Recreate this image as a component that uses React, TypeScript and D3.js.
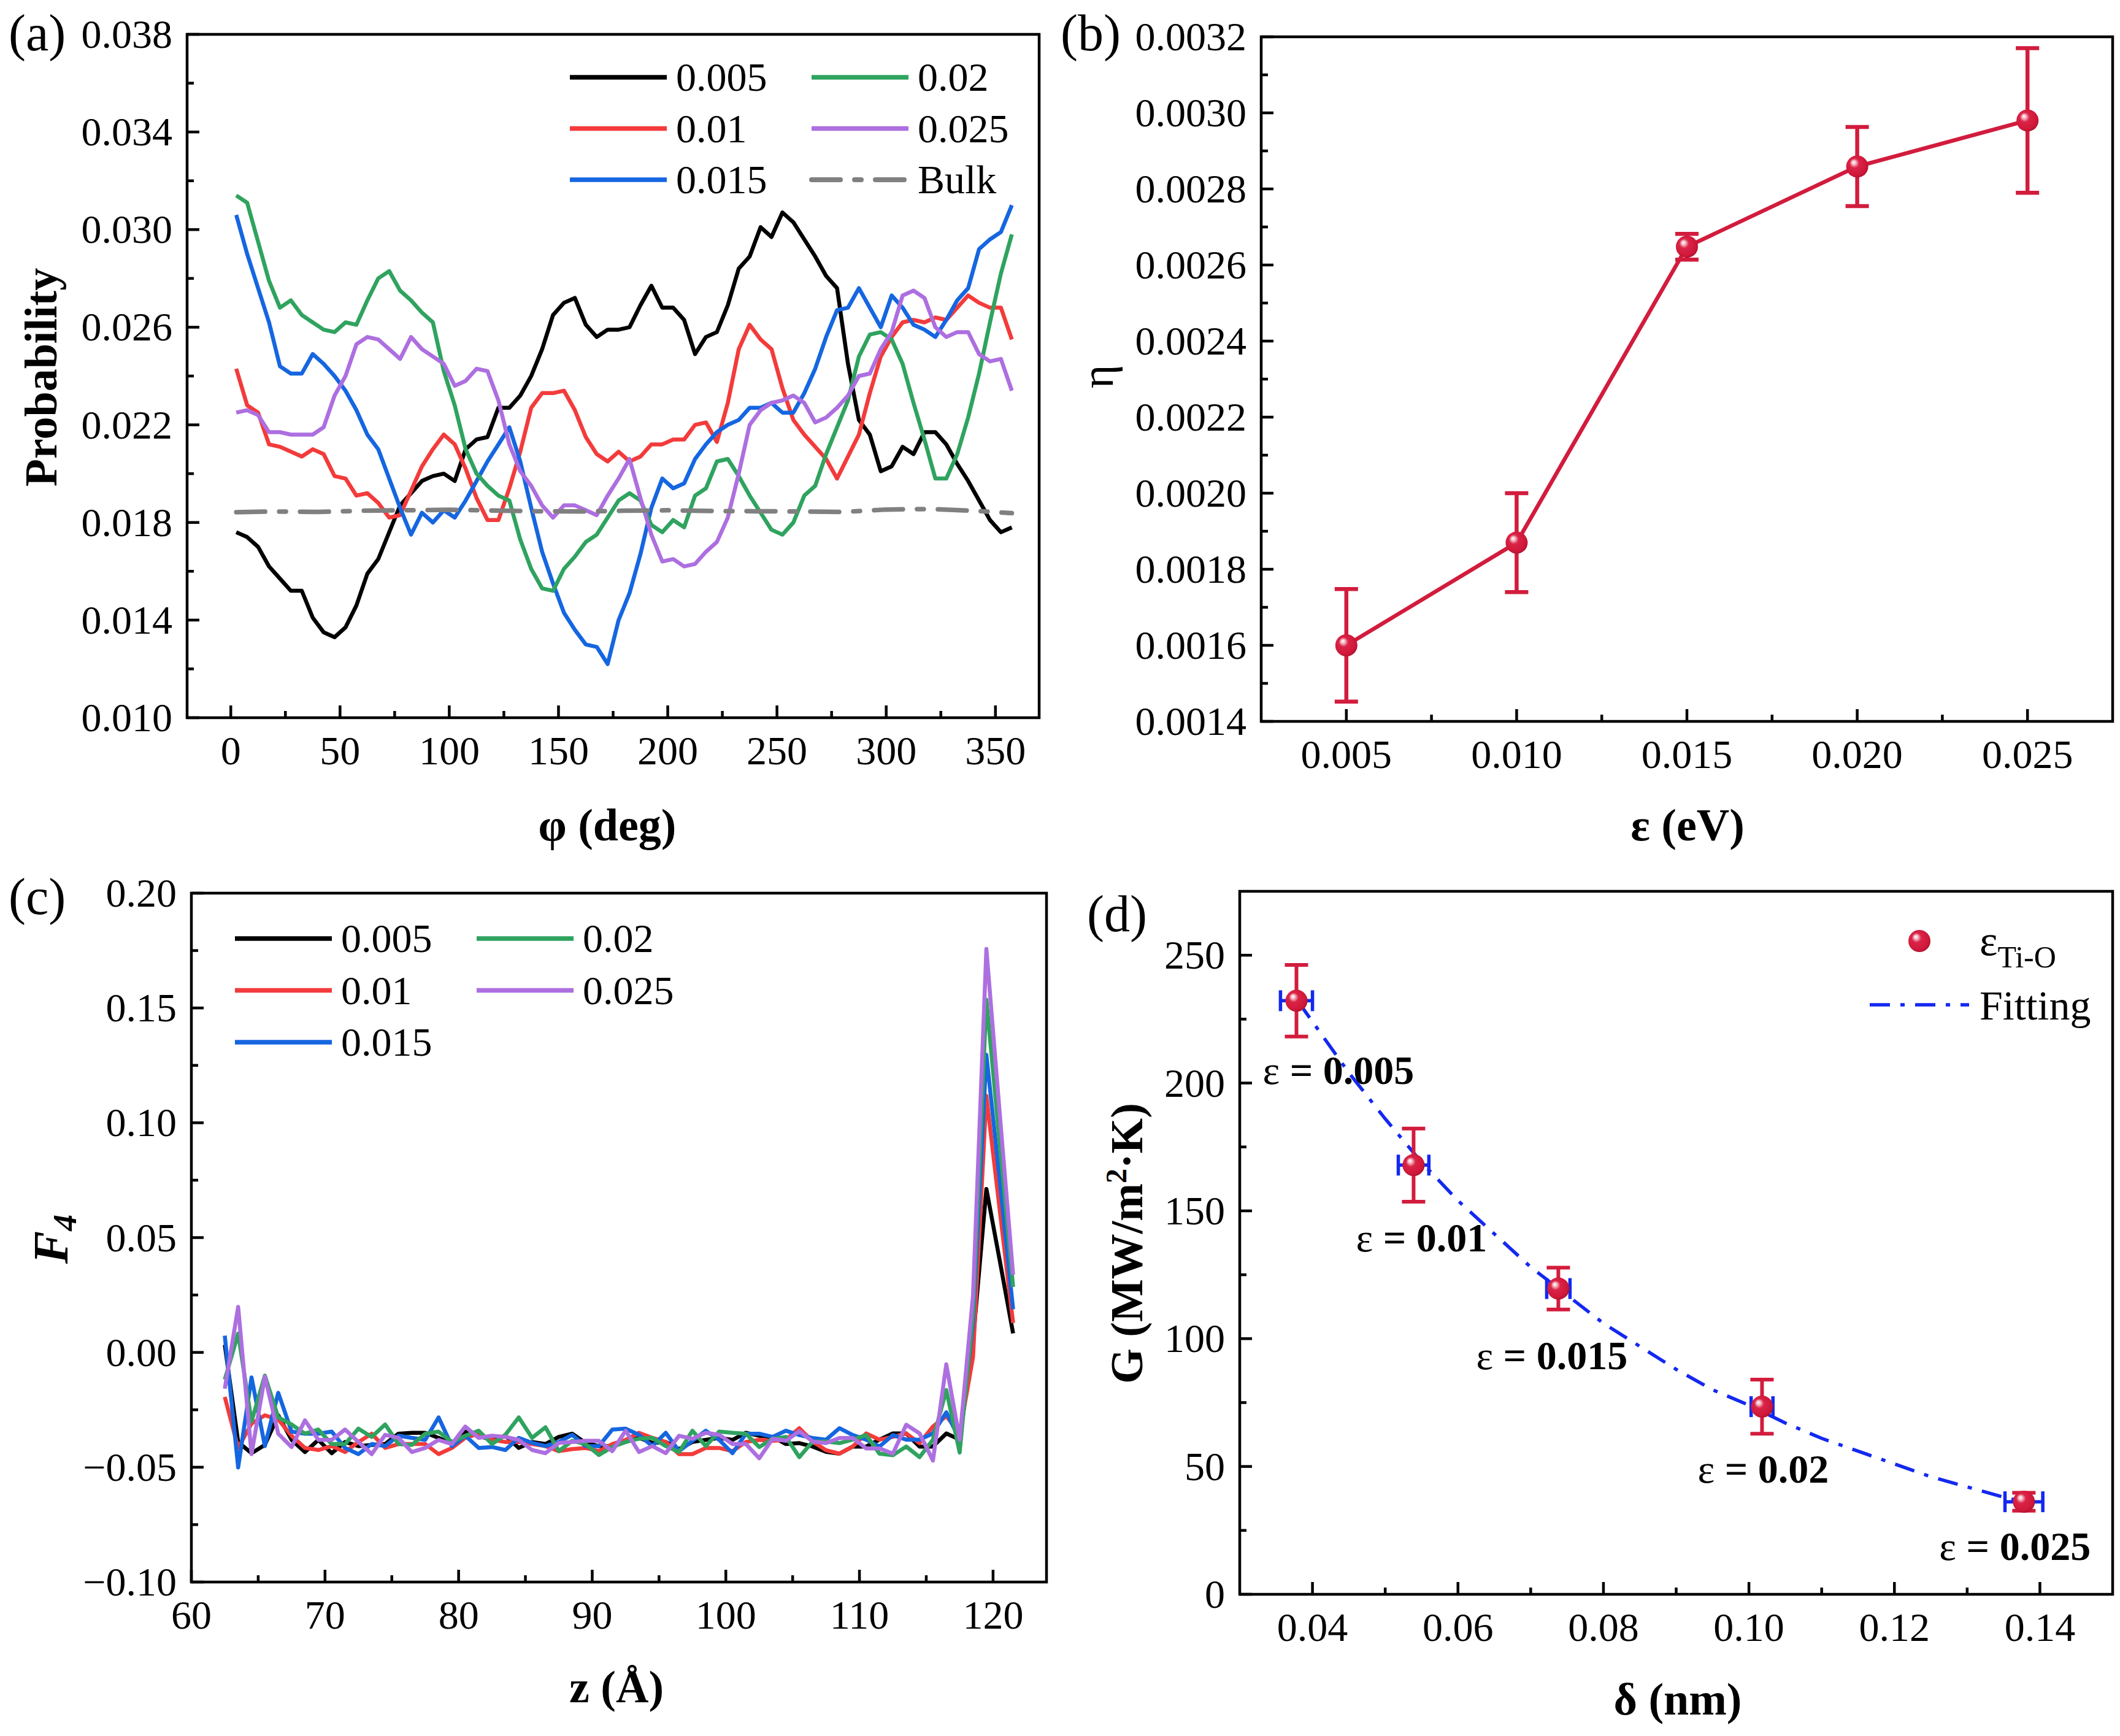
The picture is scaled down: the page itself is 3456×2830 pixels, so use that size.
import React from 'react';
import * as d3 from 'd3';

const W = 3456;
const H = 2830;
const FONT = '"Liberation Serif", "Times New Roman", Times, serif';

// ---------------- Panel (a) data ----------------
const phiGrid = d3.range(2.5, 360, 5);
const a005 = [0.0176,0.0174,0.0170,0.0162,0.0157,0.0152,0.0152,0.0141,0.0135,0.0133,
0.0137,0.0146,0.0159,0.0165,0.0176,0.0187,0.0192,0.0197,0.0199,0.0200,
0.0197,0.0210,0.0214,0.0215,0.0227,0.0227,0.0232,0.0240,0.0251,0.0265,
0.0270,0.0272,0.0261,0.0256,0.0259,0.0259,0.0260,0.0269,0.0277,0.0268,
0.0268,0.0263,0.0249,0.0256,0.0258,0.0269,0.0284,0.0289,0.0301,0.0297,
0.0307,0.0303,0.0296,0.0289,0.0281,0.0276,0.0245,0.0222,0.0216,0.0201,
0.0203,0.0211,0.0208,0.0217,0.0217,0.0212,0.0204,0.0197,0.0189,0.0181,0.0176,0.0178];
const a010 = [0.0243,0.0228,0.0225,0.0212,0.0211,0.0209,0.0207,0.0210,0.0208,0.0199,
0.0198,0.0191,0.0192,0.0188,0.0182,0.0183,0.0193,0.0203,0.0210,0.0216,
0.0212,0.0202,0.0190,0.0181,0.0181,0.0194,0.0209,0.0227,0.0233,0.0233,
0.0234,0.0226,0.0215,0.0208,0.0205,0.0209,0.0205,0.0207,0.0212,0.0212,
0.0214,0.0214,0.0220,0.0221,0.0213,0.0229,0.0251,0.0261,0.0255,0.0251,
0.0235,0.0222,0.0216,0.0211,0.0206,0.0198,0.0207,0.0216,0.0233,0.0248,
0.0256,0.0262,0.0263,0.0262,0.0264,0.0263,0.0268,0.0273,0.0270,0.0268,0.0268,0.0255];
const a015 = [0.0306,0.0290,0.0276,0.0262,0.0244,0.0241,0.0241,0.0249,0.0245,0.0240,
0.0234,0.0226,0.0216,0.0210,0.0198,0.0186,0.0175,0.0184,0.0180,0.0185,
0.0182,0.0189,0.0197,0.0205,0.0212,0.0219,0.0205,0.0186,0.0168,0.0155,
0.0143,0.0136,0.0130,0.0129,0.0122,0.0140,0.0151,0.0167,0.0186,0.0198,
0.0194,0.0196,0.0206,0.0212,0.0217,0.0220,0.0222,0.0227,0.0227,0.0229,
0.0225,0.0225,0.0233,0.0243,0.0256,0.0267,0.0268,0.0276,0.0268,0.0260,
0.0273,0.0268,0.0261,0.0259,0.0256,0.0263,0.0271,0.0276,0.0292,0.0296,0.0299,0.0310];
const a020 = [0.0314,0.0311,0.0295,0.0279,0.0268,0.0271,0.0265,0.0262,0.0259,0.0258,
0.0262,0.0261,0.0271,0.0280,0.0283,0.0275,0.0271,0.0266,0.0262,0.0242,
0.0228,0.0210,0.0200,0.0195,0.0191,0.0189,0.0173,0.0161,0.0153,0.0152,
0.0161,0.0166,0.0172,0.0175,0.0182,0.0189,0.0192,0.0189,0.0179,0.0176,
0.0181,0.0178,0.0191,0.0194,0.0205,0.0206,0.0199,0.0191,0.0184,0.0177,
0.0175,0.0180,0.0191,0.0195,0.0208,0.0219,0.0230,0.0248,0.0257,0.0258,
0.0255,0.0245,0.0229,0.0214,0.0198,0.0198,0.0208,0.0223,0.0241,0.0262,0.0282,0.0298];
const a025 = [0.0225,0.0226,0.0224,0.0217,0.0217,0.0216,0.0216,0.0216,0.0219,0.0232,
0.0240,0.0253,0.0256,0.0255,0.0251,0.0247,0.0256,0.0251,0.0248,0.0245,
0.0236,0.0238,0.0243,0.0242,0.0230,0.0212,0.0201,0.0195,0.0187,0.0182,
0.0187,0.0187,0.0185,0.0183,0.0191,0.0198,0.0206,0.0190,0.0175,0.0164,
0.0165,0.0162,0.0163,0.0168,0.0172,0.0182,0.0200,0.0220,0.0226,0.0229,
0.0230,0.0232,0.0229,0.0221,0.0223,0.0227,0.0232,0.0240,0.0241,0.0251,
0.0258,0.0273,0.0275,0.0272,0.0260,0.0256,0.0258,0.0258,0.0249,0.0246,0.0247,0.0234];
const bulkPhi = [2.5,20,40,60,80,100,120,140,160,180,200,220,240,260,280,300,320,340,357.5];
const bulkVal = [0.01842,0.01845,0.01843,0.01848,0.01850,0.01852,0.01849,0.01846,0.01845,0.01848,0.01850,0.01847,0.01846,0.01845,0.01843,0.01853,0.01855,0.01848,0.01838];
const aXTicks = [0,50,100,150,200,250,300,350];
const aXMinor = [25,75,125,175,225,275,325];
const aYTicks = [0.010,0.014,0.018,0.022,0.026,0.030,0.034,0.038];
const aYMinor = [0.012,0.016,0.020,0.024,0.028,0.032,0.036];

// ---------------- Panel (b) data ----------------
const bEps = [0.005,0.010,0.015,0.020,0.025];
const bEta = [0.00160,0.00187,0.002648,0.002859,0.00298];
const bErr = [0.000148,0.00013,0.000034,0.000104,0.00019];
const bXTicks = [0.005,0.010,0.015,0.020,0.025];
const bXMinor = [0.0075,0.0125,0.0175,0.0225];
const bYTicks = [0.0014,0.0016,0.0018,0.0020,0.0022,0.0024,0.0026,0.0028,0.0030,0.0032];
const bYMinor = [0.0015,0.0017,0.0019,0.0021,0.0023,0.0025,0.0027,0.0029,0.0031];

// ---------------- Panel (c) data ----------------
const zGrid = d3.range(62.5, 122, 1);
const c005 = [0.0033,-0.0390,-0.0439,-0.0403,-0.0274,-0.0381,-0.0434,-0.0381,-0.0439,-0.0390,
-0.0408,-0.0403,-0.0399,-0.0354,-0.0350,-0.0350,-0.0372,-0.0399,-0.0345,-0.0363,
-0.0381,-0.0363,-0.0416,-0.0390,-0.0399,-0.0368,-0.0354,-0.0394,-0.0408,-0.0408,
-0.0390,-0.0372,-0.0394,-0.0390,-0.0421,-0.0390,-0.0381,-0.0372,-0.0381,-0.0350,
-0.0363,-0.0368,-0.0399,-0.0395,-0.0410,-0.0433,-0.0441,-0.0410,-0.0410,-0.0380,
-0.0353,-0.0353,-0.0410,-0.0410,-0.0353,-0.0380,0.0051,0.0712,0.0400,0.0083];
const c010 = [-0.0194,-0.0416,-0.0310,-0.0274,-0.0292,-0.0363,-0.0416,-0.0425,-0.0408,-0.0434,
-0.0390,-0.0354,-0.0416,-0.0399,-0.0399,-0.0399,-0.0443,-0.0416,-0.0372,-0.0354,
-0.0381,-0.0390,-0.0390,-0.0399,-0.0408,-0.0430,-0.0421,-0.0416,-0.0430,-0.0399,
-0.0381,-0.0350,-0.0372,-0.0390,-0.0443,-0.0443,-0.0416,-0.0416,-0.0430,-0.0390,
-0.0381,-0.0385,-0.0381,-0.0330,-0.0388,-0.0426,-0.0441,-0.0410,-0.0353,-0.0380,
-0.0368,-0.0353,-0.0395,-0.0323,-0.0277,-0.0353,-0.0020,0.1117,0.0620,0.0128];
const c015 = [0.0073,-0.0501,-0.0109,-0.0408,-0.0176,-0.0345,-0.0354,-0.0354,-0.0345,-0.0416,
-0.0443,-0.0399,-0.0408,-0.0363,-0.0372,-0.0381,-0.0283,-0.0408,-0.0363,-0.0416,
-0.0412,-0.0425,-0.0372,-0.0394,-0.0408,-0.0390,-0.0359,-0.0408,-0.0408,-0.0336,
-0.0332,-0.0359,-0.0408,-0.0350,-0.0430,-0.0385,-0.0341,-0.0381,-0.0439,-0.0354,
-0.0354,-0.0368,-0.0341,-0.0360,-0.0373,-0.0380,-0.0330,-0.0360,-0.0380,-0.0410,
-0.0360,-0.0380,-0.0380,-0.0353,-0.0261,-0.0380,0.0128,0.1296,0.0750,0.0188];
const c020 = [-0.0118,0.0082,-0.0301,-0.0101,-0.0283,-0.0314,-0.0354,-0.0336,-0.0399,-0.0399,
-0.0332,-0.0368,-0.0314,-0.0399,-0.0403,-0.0354,-0.0345,-0.0390,-0.0363,-0.0341,
-0.0399,-0.0359,-0.0283,-0.0372,-0.0326,-0.0430,-0.0385,-0.0399,-0.0447,-0.0412,
-0.0390,-0.0376,-0.0372,-0.0408,-0.0434,-0.0341,-0.0408,-0.0345,-0.0350,-0.0354,
-0.0412,-0.0376,-0.0368,-0.0456,-0.0388,-0.0388,-0.0395,-0.0380,-0.0360,-0.0441,
-0.0448,-0.0410,-0.0456,-0.0380,-0.0164,-0.0436,0.0170,0.1536,0.0910,0.0285];
const c025 = [-0.0158,0.0198,-0.0443,-0.0105,-0.0354,-0.0412,-0.0296,-0.0381,-0.0381,-0.0336,
-0.0390,-0.0443,-0.0359,-0.0372,-0.0434,-0.0416,-0.0381,-0.0399,-0.0323,-0.0372,
-0.0363,-0.0368,-0.0381,-0.0425,-0.0439,-0.0394,-0.0390,-0.0385,-0.0385,-0.0430,
-0.0341,-0.0434,-0.0408,-0.0439,-0.0363,-0.0376,-0.0350,-0.0359,-0.0399,-0.0399,
-0.0461,-0.0376,-0.0385,-0.0343,-0.0388,-0.0395,-0.0373,-0.0373,-0.0418,-0.0418,
-0.0441,-0.0315,-0.0353,-0.0471,-0.0052,-0.0380,0.0248,0.1757,0.1040,0.0338];
const cXTicks = [60,70,80,90,100,110,120];
const cXMinor = [65,75,85,95,105,115];
const cYTicks = [-0.10,-0.05,0.00,0.05,0.10,0.15,0.20];
const cYMinor = [-0.075,-0.025,0.025,0.075,0.125,0.175];

// ---------------- Panel (d) data ----------------
const dDelta = [0.0378,0.0539,0.0738,0.1018,0.1378];
const dG = [232.2,167.9,119.6,73.4,36.2];
const dGErr = [14.0,14.3,8.2,10.6,3.5];
const dDeltaErr = [0.0022,0.0021,0.0016,0.0015,0.0026];
const dLabels = ['0.005','0.01','0.015','0.02','0.025'];
const fitX = [0.038,0.045,0.05,0.055,0.06,0.065,0.07,0.075,0.08,0.085,0.09,0.095,0.10,0.105,0.11,0.115,0.12,0.125,0.13,0.135,0.138];
const fitY = [232,204,186,169,154,141,128,117,106,97,88,80,74,67,61,56,51,46,42,38,36];
const dXTicks = [0.04,0.06,0.08,0.10,0.12,0.14];
const dXMinor = [0.05,0.07,0.09,0.11,0.13];
const dYTicks = [0,50,100,150,200,250];
const dYMinor = [25,75,125,175,225];

// ---------------- styles ----------------
const C_BLACK = '#000000';
const C_RED = '#f33b3b';
const C_BLUE = '#1566e0';
const C_GREEN = '#2fa35f';
const C_PURPLE = '#ad6fe0';
const C_GRAY = '#808080';
const C_CRIMSON = '#d21c3d';
const C_FITBLUE = '#1428f0';

const TICK_FS = 66;
const TITLE_FS = 74;
const PANEL_FS = 84;

type Box = { l: number; r: number; t: number; b: number };

function Axes(props: {
  box: Box;
  xs: d3.ScaleLinear<number, number>;
  ys: d3.ScaleLinear<number, number>;
  xMajor: number[]; xMinor: number[]; yMajor: number[]; yMinor: number[];
  xFmt: (v: number) => string; yFmt: (v: number) => string;
}) {
  const { box, xs, ys, xMajor, xMinor, yMajor, yMinor, xFmt, yFmt } = props;
  const MAJ = 20, MIN = 11, SW = 4.5;
  return (
    <g>
      {xMajor.map((v, i) => (
        <line key={'xm' + i} x1={xs(v)} x2={xs(v)} y1={box.b} y2={box.b - MAJ} stroke="#000" strokeWidth={SW} />
      ))}
      {xMinor.map((v, i) => (
        <line key={'xn' + i} x1={xs(v)} x2={xs(v)} y1={box.b} y2={box.b - MIN} stroke="#000" strokeWidth={SW} />
      ))}
      {yMajor.map((v, i) => (
        <line key={'ym' + i} x1={box.l} x2={box.l + MAJ} y1={ys(v)} y2={ys(v)} stroke="#000" strokeWidth={SW} />
      ))}
      {yMinor.map((v, i) => (
        <line key={'yn' + i} x1={box.l} x2={box.l + MIN} y1={ys(v)} y2={ys(v)} stroke="#000" strokeWidth={SW} />
      ))}
      {xMajor.map((v, i) => (
        <text key={'xl' + i} x={xs(v)} y={box.b + 76} textAnchor="middle" fontSize={TICK_FS} fontFamily={FONT}>{xFmt(v)}</text>
      ))}
      {yMajor.map((v, i) => (
        <text key={'yl' + i} x={box.l - 24} y={ys(v) + 22} textAnchor="end" fontSize={TICK_FS} fontFamily={FONT}>{yFmt(v)}</text>
      ))}
      <rect x={box.l} y={box.t} width={box.r - box.l} height={box.b - box.t} fill="none" stroke="#000" strokeWidth={SW} />
    </g>
  );
}

function Ball({ cx, cy, r }: { cx: number; cy: number; r: number }) {
  return <circle cx={cx} cy={cy} r={r} fill="url(#ballGrad)" />;
}

export default function App() {
  // ---- (a)
  const boxA: Box = { l: 305, r: 1694, t: 56, b: 1170 };
  const xA = d3.scaleLinear().domain([-20, 370]).range([boxA.l, boxA.r]);
  const yA = d3.scaleLinear().domain([0.010, 0.038]).range([boxA.b, boxA.t]);
  const lineA = d3.line<number>().x((_, i) => xA(phiGrid[i])).y((d) => yA(d));
  const bulkLine = d3.line<number>().x((_, i) => xA(bulkPhi[i])).y((d) => yA(d));
  const seriesA = [
    { name: '0.005', color: C_BLACK, v: a005 },
    { name: '0.01', color: C_RED, v: a010 },
    { name: '0.015', color: C_BLUE, v: a015 },
    { name: '0.02', color: C_GREEN, v: a020 },
    { name: '0.025', color: C_PURPLE, v: a025 },
  ];
  const BULK_DASH = '47,23,11,23';

  // ---- (b)
  const boxB: Box = { l: 2056, r: 3444, t: 60, b: 1176 };
  const xB = d3.scaleLinear().domain([0.0025, 0.0275]).range([boxB.l, boxB.r]);
  const yB = d3.scaleLinear().domain([0.0014, 0.0032]).range([boxB.b, boxB.t]);
  const lineB = d3.line<number>().x((_, i) => xB(bEps[i])).y((d) => yB(d));

  // ---- (c)
  const boxC: Box = { l: 312, r: 1706, t: 1456, b: 2579 };
  const xC = d3.scaleLinear().domain([60, 124]).range([boxC.l, boxC.r]);
  const yC = d3.scaleLinear().domain([-0.10, 0.20]).range([boxC.b, boxC.t]);
  const lineC = d3.line<number>().x((_, i) => xC(zGrid[i])).y((d) => yC(d));
  const seriesC = [
    { name: '0.005', color: C_BLACK, v: c005 },
    { name: '0.01', color: C_RED, v: c010 },
    { name: '0.015', color: C_BLUE, v: c015 },
    { name: '0.02', color: C_GREEN, v: c020 },
    { name: '0.025', color: C_PURPLE, v: c025 },
  ];

  // ---- (d)
  const boxD: Box = { l: 2021, r: 3444, t: 1453, b: 2599 };
  const xD = d3.scaleLinear().domain([0.03, 0.15]).range([boxD.l, boxD.r]);
  const yD = d3.scaleLinear().domain([0, 275]).range([boxD.b, boxD.t]);
  const fitLine = d3.line<number>().x((_, i) => xD(fitX[i])).y((d) => yD(d));
  const FIT_DASH = '33,17,7,17';
  const labelOffsets = [
    { dx: -55, dy: 136 },
    { dx: -94, dy: 141 },
    { dx: -134, dy: 131 },
    { dx: -105, dy: 124 },
    { dx: -138, dy: 95 },
  ];

  const f3 = d3.format('.3f');
  const f4 = d3.format('.4f');
  const f2 = d3.format('.2f');
  const fInt = d3.format('d');

  const legA = [
    { col: 0, row: 0, s: seriesA[0] },
    { col: 0, row: 1, s: seriesA[1] },
    { col: 0, row: 2, s: seriesA[2] },
    { col: 1, row: 0, s: seriesA[3] },
    { col: 1, row: 1, s: seriesA[4] },
  ];
  const legC = [
    { col: 0, row: 0, s: seriesC[0] },
    { col: 0, row: 1, s: seriesC[1] },
    { col: 0, row: 2, s: seriesC[2] },
    { col: 1, row: 0, s: seriesC[3] },
    { col: 1, row: 1, s: seriesC[4] },
  ];

  return (
    <svg width={W} height={H} viewBox={`0 0 ${W} ${H}`} style={{ position: 'absolute', left: 0, top: 0, background: '#fff' }} fontFamily={FONT}>
      <defs>
        <radialGradient id="ballGrad" cx="0.45" cy="0.45" r="0.6" fx="0.33" fy="0.3">
          <stop offset="0" stopColor="#ffffff" />
          <stop offset="0.14" stopColor="#f6c3cd" />
          <stop offset="0.36" stopColor="#da2447" />
          <stop offset="0.8" stopColor="#cf1839" />
          <stop offset="1" stopColor="#a5102d" />
        </radialGradient>
      </defs>
      <rect x={0} y={0} width={W} height={H} fill="#fff" />

      {/* ================= (a) ================= */}
      <g>
        {seriesA.map((s) => (
          <path key={s.name} d={lineA(s.v) || ''} fill="none" stroke={s.color} strokeWidth={6.5} strokeLinejoin="round" />
        ))}
        <path d={bulkLine(bulkVal) || ''} fill="none" stroke={C_GRAY} strokeWidth={7.5} strokeDasharray={BULK_DASH} strokeLinecap="round" />
        <Axes box={boxA} xs={xA} ys={yA} xMajor={aXTicks} xMinor={aXMinor} yMajor={aYTicks} yMinor={aYMinor} xFmt={fInt} yFmt={f3} />
        {legA.map((e) => {
          const lx = e.col === 0 ? 929 : 1323;
          const ly = 126 + e.row * 83.5;
          return (
            <g key={'la' + e.s.name}>
              <line x1={lx} x2={lx + 158} y1={ly} y2={ly} stroke={e.s.color} strokeWidth={7.5} />
              <text x={lx + 173} y={ly + 22} fontSize={TICK_FS}>{e.s.name}</text>
            </g>
          );
        })}
        <line x1={1323} x2={1481} y1={126 + 2 * 83.5} y2={126 + 2 * 83.5} stroke={C_GRAY} strokeWidth={8} strokeDasharray={BULK_DASH} strokeLinecap="round" />
        <text x={1496} y={126 + 2 * 83.5 + 22} fontSize={TICK_FS}>Bulk</text>
        <text x={14} y={82} fontSize={PANEL_FS}>(a)</text>
        <text transform="translate(92,615) rotate(-90)" textAnchor="middle" fontSize={TITLE_FS} fontWeight="bold">Probability</text>
        <text x={990} y={1370} textAnchor="middle" fontSize={TITLE_FS} fontWeight="bold">φ (deg)</text>
      </g>

      {/* ================= (b) ================= */}
      <g>
        <path d={lineB(bEta) || ''} fill="none" stroke={C_CRIMSON} strokeWidth={6.5} />
        {bEps.map((e, i) => {
          const x = xB(e);
          const yt = yB(bEta[i] + bErr[i]);
          const yb = yB(bEta[i] - bErr[i]);
          return (
            <g key={'eb' + i} stroke={C_CRIMSON} strokeWidth={6.5}>
              <line x1={x} x2={x} y1={yt} y2={yb} />
              <line x1={x - 19} x2={x + 19} y1={yt} y2={yt} />
              <line x1={x - 19} x2={x + 19} y1={yb} y2={yb} />
            </g>
          );
        })}
        {bEps.map((e, i) => (
          <Ball key={'bb' + i} cx={xB(e)} cy={yB(bEta[i])} r={18} />
        ))}
        <Axes box={boxB} xs={xB} ys={yB} xMajor={bXTicks} xMinor={bXMinor} yMajor={bYTicks} yMinor={bYMinor} xFmt={f3} yFmt={f4} />
        <text x={1729} y={82} fontSize={PANEL_FS}>(b)</text>
        <text transform="translate(1814,614) rotate(-90)" textAnchor="middle" fontSize={TITLE_FS}>η</text>
        <text x={2751} y={1370} textAnchor="middle" fontSize={TITLE_FS} fontWeight="bold">ε (eV)</text>
      </g>

      {/* ================= (c) ================= */}
      <g>
        {seriesC.map((s) => (
          <path key={'c' + s.name} d={lineC(s.v) || ''} fill="none" stroke={s.color} strokeWidth={6.5} strokeLinejoin="round" />
        ))}
        <Axes box={boxC} xs={xC} ys={yC} xMajor={cXTicks} xMinor={cXMinor} yMajor={cYTicks} yMinor={cYMinor} xFmt={fInt} yFmt={f2} />
        {legC.map((e) => {
          const lx = e.col === 0 ? 383 : 777;
          const ly = 1530 + e.row * 84.5;
          return (
            <g key={'lc' + e.s.name}>
              <line x1={lx} x2={lx + 158} y1={ly} y2={ly} stroke={e.s.color} strokeWidth={7.5} />
              <text x={lx + 173} y={ly + 22} fontSize={TICK_FS}>{e.s.name}</text>
            </g>
          );
        })}
        <text x={14} y={1490} fontSize={PANEL_FS}>(c)</text>
        <text transform="translate(110,2020) rotate(-90)" textAnchor="middle" fontSize={80} fontWeight="bold" fontStyle="italic">
          F<tspan fontSize={54} dy={14}>4</tspan>
        </text>
        <text x={1005} y={2775} textAnchor="middle" fontSize={TITLE_FS} fontWeight="bold">z (Å)</text>
      </g>

      {/* ================= (d) ================= */}
      <g>
        <path d={fitLine(fitY) || ''} fill="none" stroke={C_FITBLUE} strokeWidth={5.5} strokeDasharray={FIT_DASH} />
        {dDelta.map((dx, i) => {
          const x = xD(dx);
          const y = yD(dG[i]);
          const yt = yD(dG[i] + dGErr[i]);
          const yb = yD(dG[i] - dGErr[i]);
          const xl = xD(dx - dDeltaErr[i]);
          const xr = xD(dx + dDeltaErr[i]);
          return (
            <g key={'de' + i}>
              <g stroke={C_CRIMSON} strokeWidth={6}>
                <line x1={x} x2={x} y1={yt} y2={yb} />
                <line x1={x - 19} x2={x + 19} y1={yt} y2={yt} />
                <line x1={x - 19} x2={x + 19} y1={yb} y2={yb} />
              </g>
              <g stroke={C_FITBLUE} strokeWidth={5.5}>
                <line x1={xl} x2={xr} y1={y} y2={y} />
                <line x1={xl} x2={xl} y1={y - 17} y2={y + 17} />
                <line x1={xr} x2={xr} y1={y - 17} y2={y + 17} />
              </g>
            </g>
          );
        })}
        {dDelta.map((dx, i) => (
          <Ball key={'db' + i} cx={xD(dx)} cy={yD(dG[i])} r={18} />
        ))}
        {dDelta.map((dx, i) => (
          <text key={'dl' + i} x={xD(dx) + labelOffsets[i].dx} y={yD(dG[i]) + labelOffsets[i].dy} fontSize={TICK_FS} fontWeight="bold">
            <tspan fontWeight="normal">ε</tspan> = {dLabels[i]}
          </text>
        ))}
        <Axes box={boxD} xs={xD} ys={yD} xMajor={dXTicks} xMinor={dXMinor} yMajor={dYTicks} yMinor={dYMinor} xFmt={f2} yFmt={fInt} />
        <Ball cx={3129} cy={1534} r={18} />
        <text x={3227} y={1557} fontSize={70}>ε<tspan fontSize={50} dy={20}>Ti-O</tspan></text>
        <line x1={3048} x2={3210} y1={1638} y2={1638} stroke={C_FITBLUE} strokeWidth={5.5} strokeDasharray={FIT_DASH} />
        <text x={3227} y={1662} fontSize={68}>Fitting</text>
        <text x={1772} y={1518} fontSize={PANEL_FS}>(d)</text>
        <text transform="translate(1862,2027) rotate(-90)" textAnchor="middle" fontSize={TITLE_FS} fontWeight="bold">
          G (MW/m<tspan fontSize={48} dy={-26}>2</tspan><tspan dy={26}>·K)</tspan>
        </text>
        <text x={2735} y={2795} textAnchor="middle" fontSize={TITLE_FS} fontWeight="bold">δ (nm)</text>
      </g>
    </svg>
  );
}
